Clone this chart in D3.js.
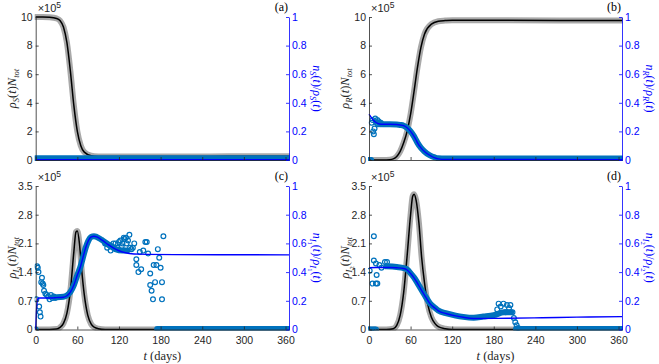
<!DOCTYPE html>
<html><head><meta charset="utf-8">
<script src="https://cdn.jsdelivr.net/npm/d3@7"></script>
<style>body{margin:0;background:#fff}svg{display:block}</style>
</head><body>
<svg id="c" width="659" height="364"></svg>
<script>
// ---------- data (left axis in units of 1e5, right axis fraction) ----------
const xTicks = [0,60,120,180,240,300,360];
const rightTicks = [0,0.2,0.4,0.6,0.8,1];
const topLeftTicks = [0,2,4,6,8,10];
const botLeftTicks = [0,0.7,1.4,2.1,2.8,3.5];

// (a) susceptible
const sT = [0,10,20,30,35,40,45,50,55,60,65,70,80,90,100,120,150,200,250,300,365];
const sV = [10,10,9.98,9.9,9.75,9.3,8.2,6.2,3.8,2.0,1.0,0.55,0.3,0.25,0.24,0.24,0.24,0.25,0.25,0.26,0.27];
const nsLineT = [0,365];
const nsLineV = [0.002,0.002];
const nsBandT = [0,365];
const nsBandV = [0.013,0.013];
const nsDotsT = [];
const nsDotsV = [];

// (b) recovered
const rT = [0,20,30,35,40,45,50,55,60,65,70,75,80,90,100,110,120,150,200,365];
const rV = [0,0,0.02,0.08,0.25,0.6,1.2,2.0,3.2,4.8,6.5,7.9,8.8,9.5,9.7,9.75,9.78,9.78,9.77,9.75];
const nrLineT = [0,3,6,10,15,20,30,40,45,50,55,60,65,68,70,75,80,87,95,100,110,365];
const nrLineV = [0.32,0.3,0.28,0.262,0.252,0.25,0.25,0.248,0.245,0.24,0.225,0.2,0.165,0.14,0.12,0.085,0.06,0.035,0.015,0.008,0.004,0.002];
const nrBandT = [20,30,40,45,50,55,60,65,70,75,80,87,95,100,110,200,365];
const nrBandV = [0.25,0.25,0.248,0.245,0.24,0.225,0.2,0.165,0.12,0.085,0.06,0.035,0.018,0.012,0.01,0.01,0.01];
const nrDotsT = [0,1,2,3,4,5,6,7,8,9,10,11,12,13,14,15,16,17,18];
const nrDotsV = [0,0,0,0,0.26,0.28,0.2,0.18,0.22,0.29,0.27,0.26,0.28,0.25,0.27,0.26,0.25,0.26,0.25];

// (c) infected I1
const i1T = [0,20,30,35,40,45,50,55,58,60,63,66,70,75,80,85,90,100,120,365];
const i1V = [0,0,0.01,0.05,0.15,0.4,0.95,1.9,2.38,2.4,2.1,1.5,0.85,0.35,0.13,0.05,0.02,0,0,0];
const n1LineT = [0,1,2,3,5,10,20,30,40,45,50,55,60,64,68,72,76,80,84,88,95,105,115,125,135,150,200,365];
const n1LineV = [0,0.12,0.19,0.215,0.22,0.22,0.22,0.222,0.225,0.235,0.26,0.31,0.38,0.43,0.5,0.57,0.62,0.645,0.65,0.645,0.625,0.59,0.56,0.54,0.53,0.525,0.522,0.52];
const n1BandT = [30,40,45,50,55,60,64,68,72,76,80,84,88,95,105,115,125,132];
const n1BandV = [0.225,0.228,0.238,0.262,0.31,0.38,0.43,0.5,0.57,0.62,0.645,0.65,0.645,0.625,0.59,0.56,0.55,0.55];
const n1ZeroT = [175,365];
const n1ZeroV = [0.004,0.004];
const n1DotsT = [0,1,2,3,4,5,6,7,8,9,10,11,12,14,16,18,20,22,24,26,28,100,103,105,108,110,112,115,118,120,122,124,125,127,128,130,131,133,135,136,138,140,142,145,145,148,150,152,155,158,160,162,165,165,167,169,170,172,174,176,178,180,182,182,184];
const n1DotsV = [0,0.21,0.44,0.43,0.4,0.16,0.12,0.09,0.33,0.36,0.32,0.31,0.27,0.25,0.24,0.23,0.21,0.24,0.22,0.23,0.22,0.6,0.57,0.59,0.55,0.58,0.6,0.6,0.57,0.61,0.62,0.58,0.6,0.64,0.63,0.64,0.6,0.62,0.66,0.57,0.56,0.57,0.6,0.49,0.45,0.4,0.54,0.42,0.55,0.61,0.61,0.53,0.39,0.31,0.27,0.21,0.45,0.33,0.45,0.56,0.5,0.43,0.33,0.21,0.65];

// (d) infected I2
const i2T = [0,25,35,40,45,50,55,60,63,65,68,72,76,80,85,90,95,100,110,120,365];
const i2V = [0,0,0.02,0.1,0.35,0.9,1.8,2.8,3.25,3.3,3.15,2.6,1.75,1.15,0.6,0.3,0.15,0.07,0.02,0,0];
const n2LineT = [0,10,20,30,40,50,55,60,65,69,75,80,88,95,100,112,125,136,151,200,250,300,365];
const n2LineV = [0.43,0.432,0.432,0.432,0.43,0.425,0.415,0.39,0.36,0.33,0.28,0.24,0.18,0.15,0.13,0.11,0.095,0.085,0.077,0.078,0.082,0.086,0.09];
const n2BandT = [25,40,50,55,60,65,69,75,80,88,95,100,112,125,136,151,165,180,195,205];
const n2BandV = [0.44,0.435,0.428,0.418,0.392,0.362,0.332,0.282,0.242,0.182,0.152,0.132,0.112,0.097,0.088,0.082,0.09,0.1,0.12,0.12];
const n2ZeroT = [212,365];
const n2ZeroV = [0.004,0.004];
const n2DotsT = [0,2,4,6,8,10,1,5,7,7,10,10,11,12,15,18,23,26,185,187,190,194,197,199,202,204,207,209,211,213,215];
const n2DotsV = [0,0,0,0,0,0,0.41,0.32,0.65,0.48,0.46,0.32,0.38,0.32,0.45,0.43,0.47,0.47,0.14,0.18,0.16,0.18,0.12,0.17,0.15,0.17,0.12,0.08,0.05,0.03,0.01];

// ---------- drawing ----------
const svg = d3.select('#c');
const AX = '#262626', BLUE = '#0000ff', DOT = '#0072BD', GRAY = '#9a9a9a';
const SANS = '"Liberation Sans",Arial,sans-serif';
const SERIF = '"Liberation Serif","DejaVu Serif",serif';

const panels = [
  {x0:35.7, x1:289, y0:17, y1:160, lt:sT, lv:sV, lmax:10, lticks:topLeftTicks, lfmt:d3.format('d'),
   nl:[nsLineT,nsLineV], nb:[nsBandT,nsBandV], nz:null, dots:[nsDotsT,nsDotsV], letter:'(a)', sub:'S', xlab:false},
  {x0:369, x1:622, y0:17, y1:160, lt:rT, lv:rV, lmax:10, lticks:topLeftTicks, lfmt:d3.format('d'),
   nl:[nrLineT,nrLineV], nb:[nrBandT,nrBandV], nz:null, dots:[nrDotsT,nrDotsV], letter:'(b)', sub:'R', xlab:false},
  {x0:35.7, x1:289, y0:186, y1:329.5, lt:i1T, lv:i1V, lmax:3.5, lticks:botLeftTicks, lfmt:d => d===0?'0':d3.format('.1f')(d),
   nl:[n1LineT,n1LineV], nb:[n1BandT,n1BandV], nz:[n1ZeroT,n1ZeroV], dots:[n1DotsT,n1DotsV], letter:'(c)', sub:'I', subsub:'1', xlab:true},
  {x0:369, x1:622, y0:186, y1:329.5, lt:i2T, lv:i2V, lmax:3.5, lticks:botLeftTicks, lfmt:d => d===0?'0':d3.format('.1f')(d),
   nl:[n2LineT,n2LineV], nb:[n2BandT,n2BandV], nz:[n2ZeroT,n2ZeroV], dots:[n2DotsT,n2DotsV], letter:'(d)', sub:'I', subsub:'2', xlab:true}
];

const zip = (a,b) => a.map((t,i)=>[t,b[i]]);

panels.forEach(p => {
  const w = p.x1 - p.x0, h = p.y1 - p.y0;
  const g = svg.append('g').attr('transform', `translate(${p.x0},${p.y0})`);
  const x = d3.scaleLinear().domain([0,365]).range([0,w]);
  const yL = d3.scaleLinear().domain([0,p.lmax]).range([h,0]);
  const yR = d3.scaleLinear().domain([0,1]).range([h,0]);
  const clip = 'clip' + p.letter.replace(/\W/g,'');
  g.append('clipPath').attr('id', clip).append('rect').attr('x',-1).attr('y',-4).attr('width',w+2).attr('height',h+5);
  const pg = g.append('g').attr('clip-path', `url(#${clip})`);

  const lineL = d3.line().x(d=>x(d[0])).y(d=>yL(d[1])).curve(d3.curveMonotoneX);
  const lineR = d3.line().x(d=>x(d[0])).y(d=>yR(d[1])).curve(d3.curveMonotoneX);

  pg.append('path').datum(zip(p.lt,p.lv)).attr('d', lineL)
    .attr('fill','none').attr('stroke',GRAY).attr('stroke-width',6).attr('stroke-opacity',0.85).attr('stroke-linejoin','round').attr('stroke-linecap','round');
  pg.append('path').datum(zip(p.lt,p.lv)).attr('d', lineL)
    .attr('fill','none').attr('stroke','#000').attr('stroke-width',1.5);

  [p.nb, p.nz].forEach(b => {
    if (!b) return;
    pg.append('path').datum(zip(b[0],b[1])).attr('d', lineR)
      .attr('fill','none').attr('stroke',DOT).attr('stroke-width',6).attr('stroke-linecap','round');
  });
  pg.selectAll('circle.dot').data(zip(p.dots[0],p.dots[1])).enter().append('circle')
    .attr('cx', d=>x(d[0])).attr('cy', d=>yR(d[1])).attr('r',2.4)
    .attr('fill','none').attr('stroke',DOT).attr('stroke-width',1.2);
  pg.append('path').datum(zip(p.nl[0],p.nl[1])).attr('d', lineR)
    .attr('fill','none').attr('stroke',BLUE).attr('stroke-width',1.4);

  const ax = g.append('g').attr('transform',`translate(0,${h})`)
    .call(d3.axisBottom(x).tickValues(xTicks).tickSizeInner(-3).tickSizeOuter(0).tickPadding(7)
      .tickFormat(p.xlab ? d3.format('d') : ''));
  const al = g.append('g')
    .call(d3.axisLeft(yL).tickValues(p.lticks).tickSizeInner(-3).tickSizeOuter(0).tickPadding(3).tickFormat(p.lfmt));
  const ar = g.append('g').attr('transform',`translate(${w},0)`)
    .call(d3.axisRight(yR).tickValues(rightTicks).tickSizeInner(-3).tickSizeOuter(0).tickPadding(3).tickFormat(d=>d===0?'0':d===1?'1':d3.format('.1f')(d)));
  [ax,al].forEach(a => { a.selectAll('path,line').attr('stroke',AX).attr('stroke-width',0.8);
    a.selectAll('text').attr('fill',AX).style('font-family',SANS).style('font-size','10.5px'); });
  ar.selectAll('path,line').attr('stroke',BLUE).attr('stroke-width',0.8);
  ar.selectAll('text').attr('fill',BLUE).style('font-family',SANS).style('font-size','10.5px');

  const m = g.append('text').attr('x',2).attr('y',-5).attr('fill',AX)
    .style('font-family',SANS).style('font-size','11px');
  m.append('tspan').text('×10');
  m.append('tspan').attr('dy',-4).style('font-size','8.5px').text('5');

  g.append('text').attr('x',w-1).attr('y',-6).attr('text-anchor','end').attr('fill','#000')
    .style('font-family',SERIF).style('font-size','12px').text(p.letter);

  const addSub = (el, base) => {
    el.append('tspan').style('font-style','italic').text(base);
    el.append('tspan').attr('dy',3).style('font-size','8.5px').style('font-style','italic').text(p.sub);
    if (p.subsub) el.append('tspan').attr('dy',2).style('font-size','6.5px').text(p.subsub);
    el.append('tspan').attr('dy', p.subsub ? -5 : -3).text('(');
    el.append('tspan').style('font-style','italic').text('t');
    el.append('tspan').text(')');
  };

  const yl = g.append('text').attr('transform',`translate(${-20},${h/2}) rotate(-90)`).attr('text-anchor','middle')
    .attr('fill',AX).style('font-family',SERIF).style('font-size','12.5px');
  addSub(yl,'ρ');
  yl.append('tspan').style('font-style','italic').text('N');
  yl.append('tspan').attr('dy',3).style('font-size','8.5px').style('font-style','italic').text('tot');

  const yr = g.append('text').attr('transform',`translate(${w+24},${h/2}) rotate(90)`).attr('text-anchor','middle')
    .attr('fill',BLUE).style('font-family',SERIF).style('font-size','12px');
  addSub(yr,'n');
  yr.append('tspan').text('/');
  addSub(yr,'ρ');

  if (p.xlab) {
    const xl = g.append('text').attr('x',w/2).attr('y',h+30).attr('text-anchor','middle').attr('fill',AX)
      .style('font-family',SERIF).style('font-size','12.5px');
    xl.append('tspan').style('font-style','italic').text('t');
    xl.append('tspan').text(' (days)');
  }
});
</script>
</body></html>
